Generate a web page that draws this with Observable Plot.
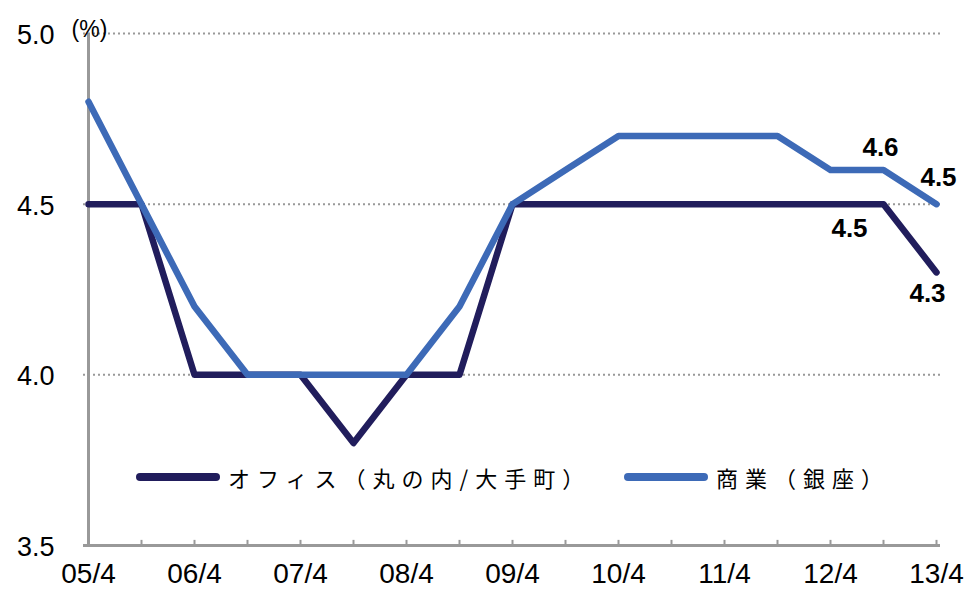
<!DOCTYPE html>
<html>
<head>
<meta charset="utf-8">
<script src="https://cdn.jsdelivr.net/npm/d3@7"></script>
<script src="https://cdn.jsdelivr.net/npm/@observablehq/plot@0.6"></script>
<style>
  html, body { margin: 0; padding: 0; background: #fff; }
  #wrap { position: relative; width: 968px; height: 595px; font-family: "Liberation Sans", Arial, sans-serif; }
  #wrap svg { display: block; }
  .legend { position: absolute; top: 461px; display: flex; align-items: center; font-family: "Noto Sans CJK JP", sans-serif; font-size: 22px; letter-spacing: 7px; color: #000; white-space: nowrap; }
  .sw { display: inline-block; width: 84px; height: 8px; border-radius: 4px; margin-right: 8px; }
</style>
</head>
<body>
<div id="wrap"></div>
<script>
const periods = ["05/4","05/10","06/4","06/10","07/4","07/10","08/4","08/10","09/4","09/10","10/4","10/10","11/4","11/10","12/4","12/10","13/4"];
const office = [4.5,4.5,4.0,4.0,4.0,3.8,4.0,4.0,4.5,4.5,4.5,4.5,4.5,4.5,4.5,4.5,4.3];
const commercial = [4.8,4.5,4.2,4.0,4.0,4.0,4.0,4.2,4.5,4.6,4.7,4.7,4.7,4.7,4.6,4.6,4.5];
const seriesNames = ["オフィス（丸の内/大手町）", "商業（銀座）"];
const colors = ["#211d5c", "#3d6ab7"];
const yTicks = [3.5, 4.0, 4.5, 5.0];
const gridValues = [4.0, 4.5, 5.0];
const labelTicks = periods.filter(p => p.endsWith("/4"));

const rows = [];
periods.forEach((p, i) => {
  rows.push({period: p, value: office[i], series: seriesNames[0]});
  rows.push({period: p, value: commercial[i], series: seriesNames[1]});
});

const labelStyle = {fontSize: 26, fontWeight: "bold", fill: "#000"};
const valueLabel = (period, value, dx, dy) =>
  Plot.text([{period, value}], {x: "period", y: "value", text: d => d.value.toFixed(1), dx, dy, ...labelStyle});

const chart = Plot.plot({
  width: 968,
  height: 595,
  marginLeft: 83,
  marginRight: 28,
  marginTop: 33,
  marginBottom: 50,
  style: {fontFamily: "Liberation Sans, Arial, sans-serif", background: "#fff"},
  x: {type: "point", domain: periods, padding: 0, axis: null},
  y: {domain: [3.5, 5.0], axis: null},
  color: {domain: seriesNames, range: colors},
  marks: [
    Plot.ruleY(gridValues, {stroke: "#999", strokeWidth: 2, strokeDasharray: "2,3"}),
    Plot.text(yTicks, {y: d => d, frameAnchor: "left", textAnchor: "end", dx: -29, dy: 2, text: d => d.toFixed(1), fontSize: 27, fill: "#000"}),
    Plot.text(labelTicks, {x: d => d, frameAnchor: "bottom", dy: 37, text: d => d, fontSize: 28, fill: "#000"}),
    Plot.ruleX(periods.slice(1), {y1: 3.5, y2: 3.515, stroke: "#999", strokeWidth: 2}),
    Plot.ruleY([3.5], {stroke: "#999", strokeWidth: 3}),
    Plot.ruleX([periods[0]], {y1: 3.5, y2: 5.0, stroke: "#999", strokeWidth: 3}),
    Plot.line(rows, {x: "period", y: "value", z: "series", stroke: "series", strokeWidth: 6.5, strokeLinejoin: "round", strokeLinecap: "round"}),
    valueLabel(periods[15], commercial[15], -3, -22),
    valueLabel(periods[16], commercial[16], 2, -26),
    valueLabel(periods[15], office[15], -34, 25),
    valueLabel(periods[16], office[16], -9, 21),
    Plot.text(["(%)"], {x: () => periods[0], y: () => 5.0, dx: 1, dy: -4, text: d => d, fontSize: 23, fill: "#000"})
  ]
});

const wrap = document.getElementById("wrap");
wrap.appendChild(chart);

const leg = [[136, 0], [624, 1]];
leg.forEach(([left, i]) => {
  const d = document.createElement("div");
  d.className = "legend";
  d.style.left = left + "px";
  d.innerHTML = `<span class="sw" style="background:${colors[i]}"></span><span>${seriesNames[i]}</span>`;
  wrap.appendChild(d);
});
</script>
</body>
</html>
